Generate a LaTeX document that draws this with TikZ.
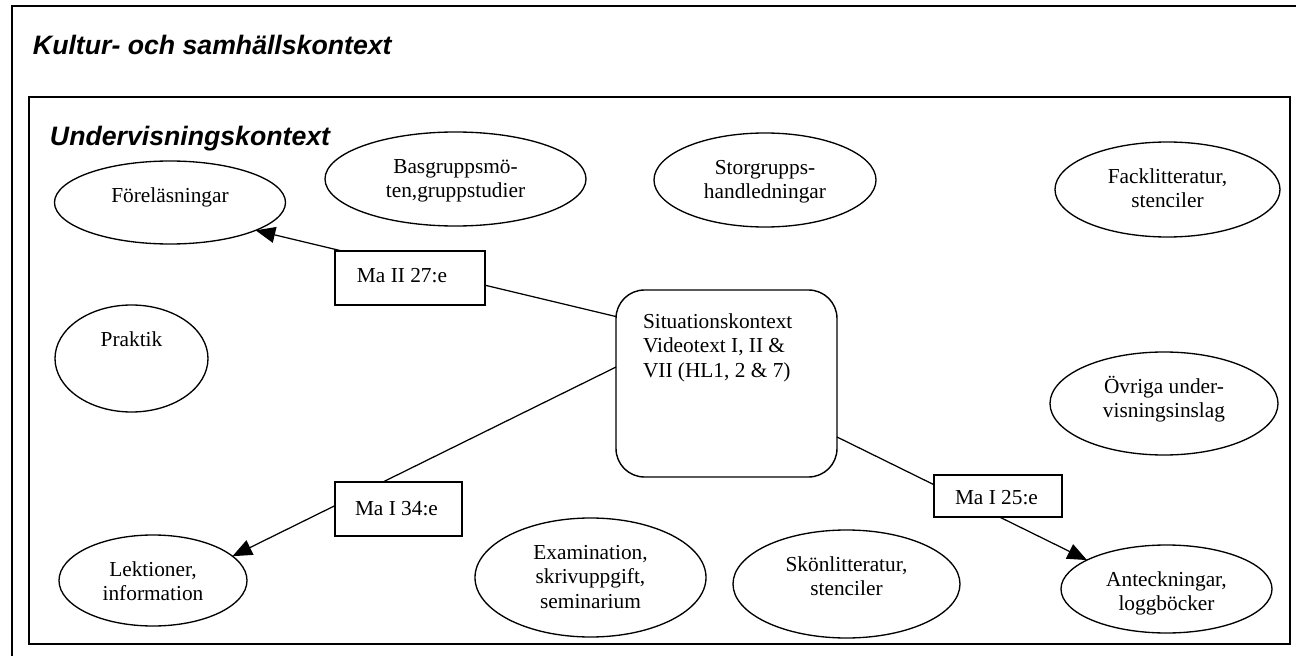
\documentclass[tikz,border=0pt]{standalone}
\usepackage{fontspec}
\setmainfont{Liberation Serif}
\newfontfamily\headfont{Liberation Sans}
\usetikzlibrary{shapes.geometric,arrows.meta,calc}
\begin{document}
\begin{tikzpicture}[x=0.5625pt,y=-0.5625pt,
  every node/.style={inner sep=0pt, outer sep=0pt},
  frame/.style={draw, line width=1.1pt},
  ell/.style={draw, ellipse, line width=0.75pt},
  etext/.style={font=\fontsize{12}{13.8}\selectfont, align=center, anchor=north},
  head/.style={font=\headfont\bfseries\itshape\fontsize{15}{18}\selectfont, anchor=base west},
  tag/.style={draw, fill=white, rectangle, line width=0.75pt},
  tagtext/.style={font=\fontsize{12}{13.8}\selectfont, anchor=west},
  sitbox/.style={draw, rectangle, rounded corners=16pt, line width=0.8pt},
  conn/.style={line width=0.7pt},
  arr/.style={conn, -{Triangle[length=11pt,width=9pt]}}]
\useasboundingbox (0,0) rectangle (1296,656);
\fill[white] (0,0) rectangle (1296,656);
% frames
\draw[frame] (12,6) rectangle (1310,670);
\draw[frame] (29,97) rectangle (1290,644);
\node[head] (t1) at (33,55) {Kultur- och samhällskontext};
\node[head] (t2) at (50,146) {Undervisningskontext};
% ellipses
\node[ell, minimum width=129.94pt, minimum height=46.69pt] (fore) at (170,202.5) {};
\node[ell, minimum width=86.06pt,  minimum height=60.19pt] (prak) at (131.5,358.5) {};
\node[ell, minimum width=105.75pt, minimum height=51.19pt] (lek)  at (153,580.5) {};
\node[ell, minimum width=146.81pt, minimum height=52.88pt] (bas)  at (455.5,179) {};
\node[ell, minimum width=124.88pt, minimum height=52.88pt] (stor) at (765,180) {};
\node[ell, minimum width=126.56pt, minimum height=53.44pt] (fack) at (1167.5,189.5) {};
\node[ell, minimum width=128.25pt, minimum height=57.94pt] (ovr)  at (1164,403.5) {};
\node[ell, minimum width=129.94pt, minimum height=66.94pt] (exam) at (590.5,577.5) {};
\node[ell, minimum width=127.69pt, minimum height=60.75pt] (skon) at (846.5,584) {};
\node[ell, minimum width=118.69pt, minimum height=49.5pt]  (ant)  at (1166.5,589) {};
% ellipse texts
\node[etext] (forex) at ($(fore.north)+(0,24)$) {\strut Föreläsningar};
\node[etext] (prakx) at ($(prak.north)+(0,24)$) {\strut Praktik};
\node[etext] (lekx)  at ($(lek.north)+(0,24)$)  {\strut Lektioner,\\information};
\node[etext] (basx)  at ($(bas.north)+(0,24)$)  {\strut Basgruppsmö-\\ten,gruppstudier};
\node[etext] (storx) at ($(stor.north)+(0,24)$) {\strut Storgrupps-\\handledningar};
\node[etext] (fackx) at ($(fack.north)+(0,24)$) {\strut Facklitteratur,\\stenciler};
\node[etext] (ovrx)  at ($(ovr.north)+(0,24)$)  {\strut Övriga under-\\visningsinslag};
\node[etext] (examx) at ($(exam.north)+(0,24)$) {\strut Examination,\\skrivuppgift,\\seminarium};
\node[etext] (skonx) at ($(skon.north)+(0,24)$) {\strut Skönlitteratur,\\stenciler};
\node[etext] (antx)  at ($(ant.north)+(0,24)$)  {\strut Anteckningar,\\loggböcker};
% situation box
\node[sitbox, minimum width=124.31pt, minimum height=105.19pt] (sit) at (726.5,383.5) {};
\node[etext, align=left, anchor=north west] (sitx) at ($(sit.north west)+(27,21)$)
  {\strut Situationskontext\\Videotext I, II \&\\VII (HL1, 2 \& 7)};
% connectors
\coordinate (s1) at ($(sit.north west)!0.142!(sit.south west)$);
\coordinate (s2) at ($(sit.north west)!0.412!(sit.south west)$);
\coordinate (s3) at ($(sit.north east)!0.786!(sit.south east)$);
\draw[arr] (s1) -- (fore.-18);
\draw[arr] (s2) -- (lek.17);
\draw[arr] (s3) -- (ant.160);
% tags
\node[tag, minimum width=84.38pt, minimum height=30.38pt] (ma2)  at (410,278) {};
\node[tag, minimum width=71.44pt, minimum height=30.38pt] (ma1a) at (398.5,509) {};
\node[tag, minimum width=72pt,    minimum height=23.63pt] (ma1b) at (998,496) {};
\node[tagtext] (ma2x)  at ($(ma2.west)+(22,-2)$)  {Ma II 27:e};
\node[tagtext] (ma1ax) at ($(ma1a.west)+(20,0)$)  {Ma I 34:e};
\node[tagtext] (ma1bx) at ($(ma1b.west)+(21,2)$)  {Ma I 25:e};
\end{tikzpicture}
\end{document}
